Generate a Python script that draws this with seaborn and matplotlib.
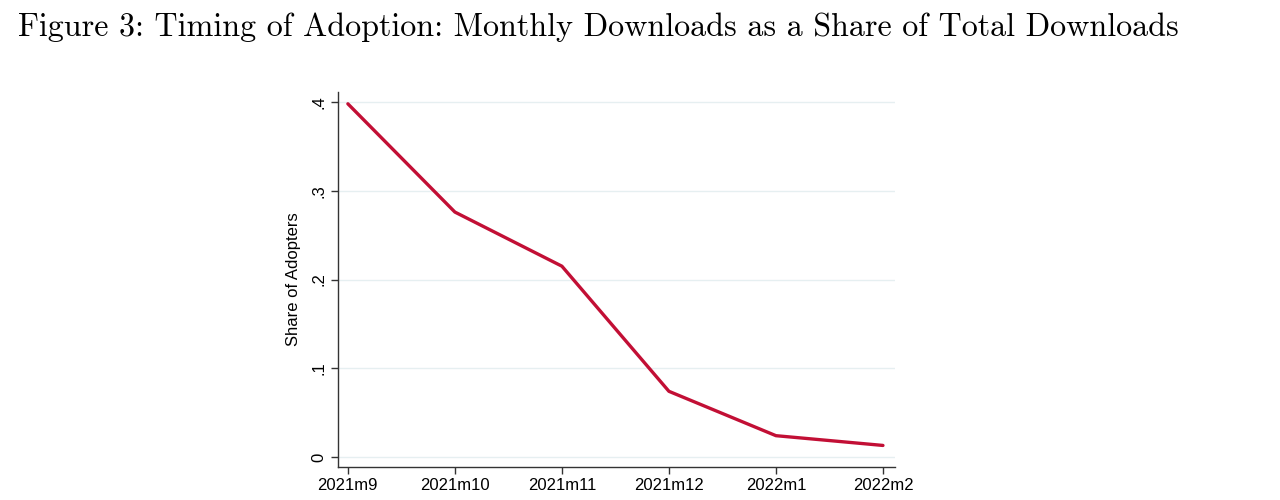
import matplotlib.pyplot as plt
import seaborn as sns
import pandas as pd

# data
months = ['2021m9', '2021m10', '2021m11', '2021m12', '2022m1', '2022m2']
share = [0.398, 0.276, 0.215, 0.074, 0.024, 0.013]
yticks = [0, 0.1, 0.2, 0.3, 0.4]
ytick_labels = ['0', '.1', '.2', '.3', '.4']

df = pd.DataFrame({'month': months, 'share': share})
df['pos'] = range(len(df))

sns.set_theme(style='white')
plt.rcParams['font.family'] = ['Liberation Sans', 'DejaVu Sans']

fig = plt.figure(figsize=(12.8, 5.0), dpi=100)
ax = fig.add_axes([0.264, 0.066, 0.435, 0.75])

sns.lineplot(data=df, x='pos', y='share', ax=ax, color='#c20f35', linewidth=2.4)

ax.set_xlim(-0.093, 5.11)
ax.set_ylim(-0.0113, 0.4113)
ax.set_xticks(df['pos'])
ax.set_xticklabels(months, fontsize=12, color='black')
ax.set_yticks(yticks)
ax.set_yticklabels(ytick_labels, fontsize=12, rotation=90, va='center', color='black')
ax.set_xlabel('')
ax.set_ylabel('Share of Adopters', fontsize=12, labelpad=8, color='black')

ax.grid(axis='y', color='#e6eff1', linewidth=1)
ax.grid(axis='x', visible=False)
sns.despine(ax=ax)
for s in ['left', 'bottom']:
    ax.spines[s].set_color('#333333')
    ax.spines[s].set_linewidth(1)
ax.tick_params(axis='both', which='major', length=5, width=1, color='#333333',
               bottom=True, left=True, pad=3)

fig.text(0.014, 0.945, 'Figure 3: Timing of Adoption: Monthly Downloads as a Share of Total Downloads',
         fontsize=23.1, family=['cmr10', 'DejaVu Serif'], va='center', ha='left', color='black')

plt.savefig('out.png', dpi=100)
